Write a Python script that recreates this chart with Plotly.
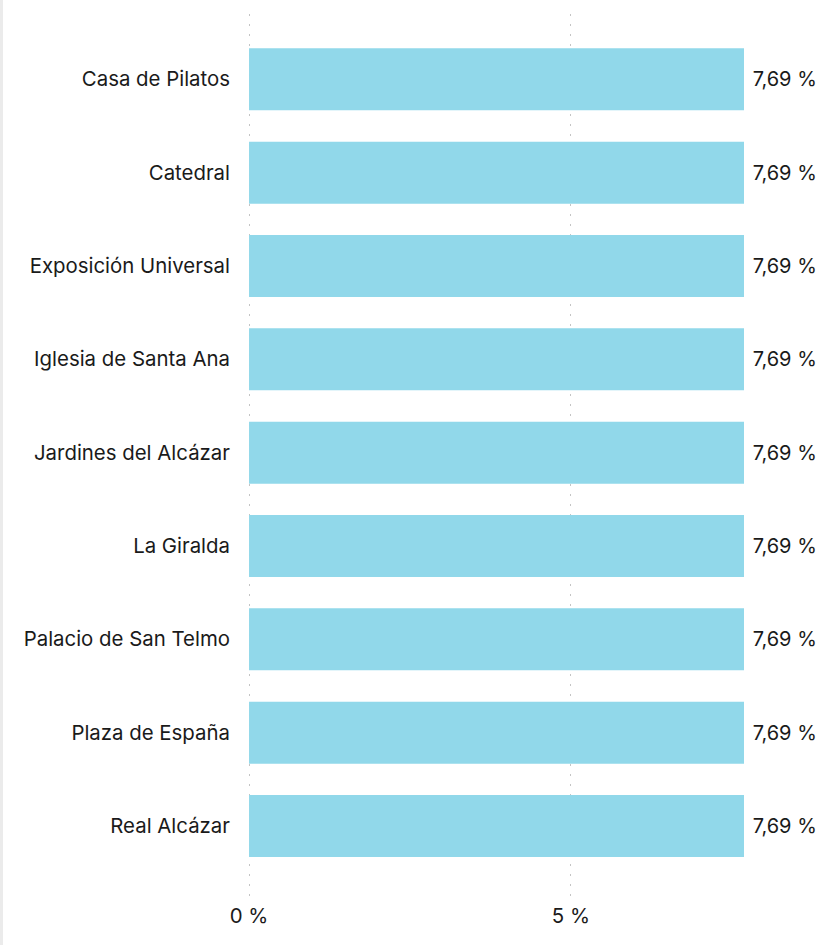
import plotly.graph_objects as go

categories = ["Casa de Pilatos", "Catedral", "Exposición Universal", "Iglesia de Santa Ana",
              "Jardines del Alcázar", "La Giralda", "Palacio de San Telmo", "Plaza de España",
              "Real Alcázar"]
values = [7.69, 7.69, 7.69, 7.69, 7.69, 7.69, 7.69, 7.69, 7.69]
x_ticks = [0, 5]
x_tick_labels = ["0 %", "5 %"]

W, H = 839, 945
ML, MR, MT, MB = 248, 95, 14, 49
plot_w = W - ML - MR

text_labels = ["\u00a0" + f"{v:.2f}".replace(".", ",") + " %" for v in values]

FS = 20.4
fig = go.Figure(go.Bar(
    x=values, y=categories, orientation="h",
    marker=dict(color="#91D8EA", line=dict(width=0)),
    width=0.665,
    text=text_labels, textposition="outside",
    textfont=dict(family="Inter", size=20, color="#1a1a1a"),
    cliponaxis=False,
))

fig.update_layout(
    width=W, height=H,
    margin=dict(l=ML, r=MR, t=MT, b=MB),
    paper_bgcolor="white", plot_bgcolor="white",
    showlegend=False,
    font=dict(family="Inter", size=FS, color="#1a1a1a"),
    shapes=[dict(type="rect", xref="paper", yref="paper",
                 x0=-ML / plot_w, x1=(3 - ML) / plot_w, y0=-MB / (H - MT - MB), y1=1 + MT / (H - MT - MB),
                 fillcolor="#ebebeb", line=dict(width=0), layer="below")],
)
fig.update_xaxes(
    range=[-0.016, max(values)], tickvals=x_ticks, ticktext=x_tick_labels,
    showgrid=True, gridcolor="#c4c4c4", gridwidth=1, griddash="2px,8px",
    zeroline=False, showline=False, ticks="",
    tickfont=dict(family="Inter", size=FS, color="#1a1a1a"),
    ticklabelstandoff=6,
)
fig.update_yaxes(
    categoryorder="array", categoryarray=categories,
    range=[len(categories) - 1 + 0.75, -0.70],
    showgrid=False, zeroline=False, showline=False, ticks="",
    ticklabelstandoff=17,
    tickfont=dict(family="Inter", size=FS, color="#1a1a1a"),
)

fig.write_html("out.html", config={"displayModeBar": False},
               post_script="document.body.style.margin='0';")
